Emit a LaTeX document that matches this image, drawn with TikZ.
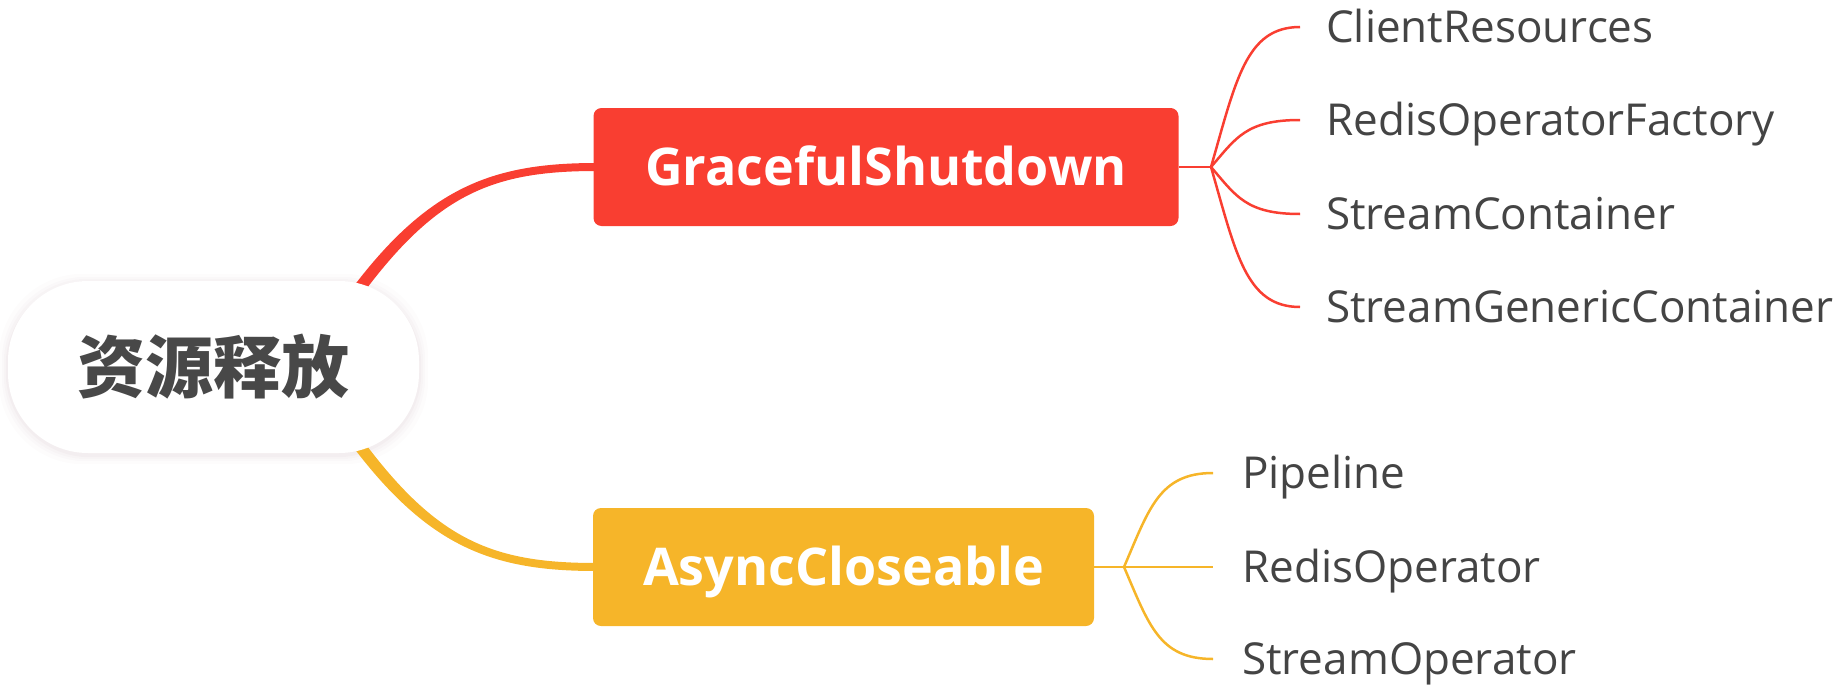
\documentclass[tikz,border=0pt]{standalone}
\usepackage{fontspec}
\setmainfont{Open Sans}
\newfontfamily\cjk{Noto Sans CJK SC}
\usetikzlibrary{calc,backgrounds}
\definecolor{cred}{RGB}{249,62,49}
\definecolor{cyel}{RGB}{246,181,41}
\definecolor{ctext}{RGB}{68,68,68}
\definecolor{croot}{RGB}{72,72,72}
\definecolor{chalo}{RGB}{190,160,170}
\begin{document}
\begin{tikzpicture}[x=1pt,y=-1pt,
  rootnode/.style={fill=white, rounded corners=80pt, minimum width=411pt, minimum height=172pt, inner sep=0pt, text=croot, font=\cjk\bfseries\fontsize{68}{72}\selectfont},
  branchbox/.style={rounded corners=8pt, minimum height=118pt, inner sep=0pt, text=white, font=\bfseries\fontsize{52}{60}\selectfont, text height=37pt, text depth=0pt},
  leafnode/.style={anchor=west, inner ysep=0pt, text=ctext, font=\fontsize{44}{50}\selectfont, text height=31.4pt, text depth=0pt},
  rleafline/.style={draw=cred, line width=2.5pt},
  yleafline/.style={draw=cyel, line width=2.5pt},
  halo/.style={fill=chalo, rounded corners=84pt}
]
\useasboundingbox (0,0) rectangle (1844,693);
\node[rootnode] (root) at (213.5,367) {资源释放};
\node[branchbox, fill=cred, minimum width=585pt] (gs) at (886,167) {GracefulShutdown};
\node[branchbox, fill=cyel, minimum width=501pt] (ac) at (843.5,567) {AsyncCloseable};
\coordinate (gj) at (1211,167);
\coordinate (aj) at (1124,567);
\node[leafnode, inner xsep=26pt] (l1) at (1300,27) {ClientResources};
\node[leafnode, inner xsep=26pt] (l2) at (1300,120) {RedisOperatorFactory};
\node[leafnode, inner xsep=26pt] (l3) at (1300,214) {StreamContainer};
\node[leafnode, inner xsep=26pt] (l4) at (1300,307) {StreamGenericContainer};
\node[leafnode, inner xsep=29pt] (l5) at (1213,473) {Pipeline};
\node[leafnode, inner xsep=29pt] (l6) at (1213,567) {RedisOperator};
\node[leafnode, inner xsep=29pt] (l7) at (1213,659) {StreamOperator};
\begin{pgfonlayer}{background}
  \foreach \e/\o in {9/0.03,6/0.04,4/0.05,2/0.07}{
    \fill[halo, opacity=\o] ($(root.north west)+(-\e,-\e+2)$) rectangle ($(root.south east)+(\e,\e+2)$);
  }
  \fill[cred] ($(root.center)+(111.5,-40.3)$) .. controls +(90,-135) and +(-114,0) .. ($(gs.west)+(3,-4)$) -- ($(gs.west)+(3,4)$) .. controls +(-114,0) and +(90,-135) .. ($(root.center)+(121.5,-33.7)$) -- cycle;
  \fill[cyel] ($(root.center)+(121.5,33.7)$) .. controls +(90,135) and +(-114,0) .. ($(ac.west)+(3,-4)$) -- ($(ac.west)+(3,4)$) .. controls +(-114,0) and +(90,135) .. ($(root.center)+(111.5,40.3)$) -- cycle;
\end{pgfonlayer}
\draw[rleafline] (gs.east) -- (gj);
\draw[rleafline] (gj) .. controls +(25,-87) and +(-54,0) .. (l1.west);
\draw[rleafline] (gj) .. controls +(25,-29) and +(-54,0) .. (l2.west);
\draw[rleafline] (gj) .. controls +(25,29) and +(-54,0) .. (l3.west);
\draw[rleafline] (gj) .. controls +(25,87) and +(-54,0) .. (l4.west);
\draw[yleafline] (ac.east) -- (aj);
\draw[yleafline] (aj) .. controls +(25,-58) and +(-54,0) .. (l5.west);
\draw[yleafline] (aj) -- (l6.west);
\draw[yleafline] (aj) .. controls +(25,58) and +(-54,0) .. (l7.west);
\end{tikzpicture}
\end{document}
